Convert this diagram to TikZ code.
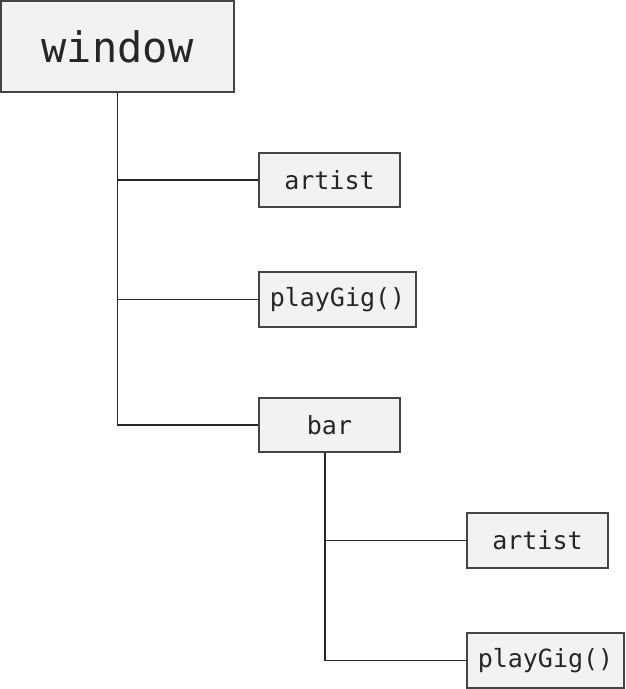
\documentclass[tikz,border=0pt]{standalone}
\usepackage{fontspec}
\setmonofont{DejaVu Sans Mono}
\usetikzlibrary{positioning}
\definecolor{boxfill}{HTML}{F2F2F2}
\definecolor{boxline}{HTML}{444444}

\begin{document}
\begin{tikzpicture}[x=1pt, y=-1pt,
    box/.style={draw=boxline, fill=boxfill, line width=1.2pt, inner sep=0pt,
      font=\ttfamily\fontsize{25}{25}\selectfont, text=black!85},
    link/.style={draw=black!85, line width=1.2pt}]
    \useasboundingbox (0,0) rectangle (625,689);

    % Objects
    \node[box, minimum width=233, minimum height=91,
      font=\ttfamily\fontsize{42}{42}\selectfont] (window) at (117.5,46.5) {window};
    \node[box, minimum width=141, minimum height=54] (artist) at (329.5,180) {artist};
    \node[box, minimum width=157, minimum height=55] (play) at (337.5,299.5) {playGig()};
    \node[box, minimum width=141, minimum height=54] (bar) at (329.5,425) {bar};
    \node[box, minimum width=141, minimum height=55] (barartist) at (537.5,540.5) {artist};
    \node[box, minimum width=157, minimum height=55] (barplay) at (545.5,660.5) {playGig()};

    % Tree lines
    \draw[link] (window.south) |- (bar.west);
    \draw[link] (window.south |- artist.west) -- (artist.west);
    \draw[link] (window.south |- play.west) -- (play.west);
    \coordinate (bartop) at ([xshift=-4.5]bar.south);
    \draw[link] (bartop) |- (barplay.west);
    \draw[link] (bartop |- barartist.west) -- (barartist.west);
\end{tikzpicture}
\end{document}
